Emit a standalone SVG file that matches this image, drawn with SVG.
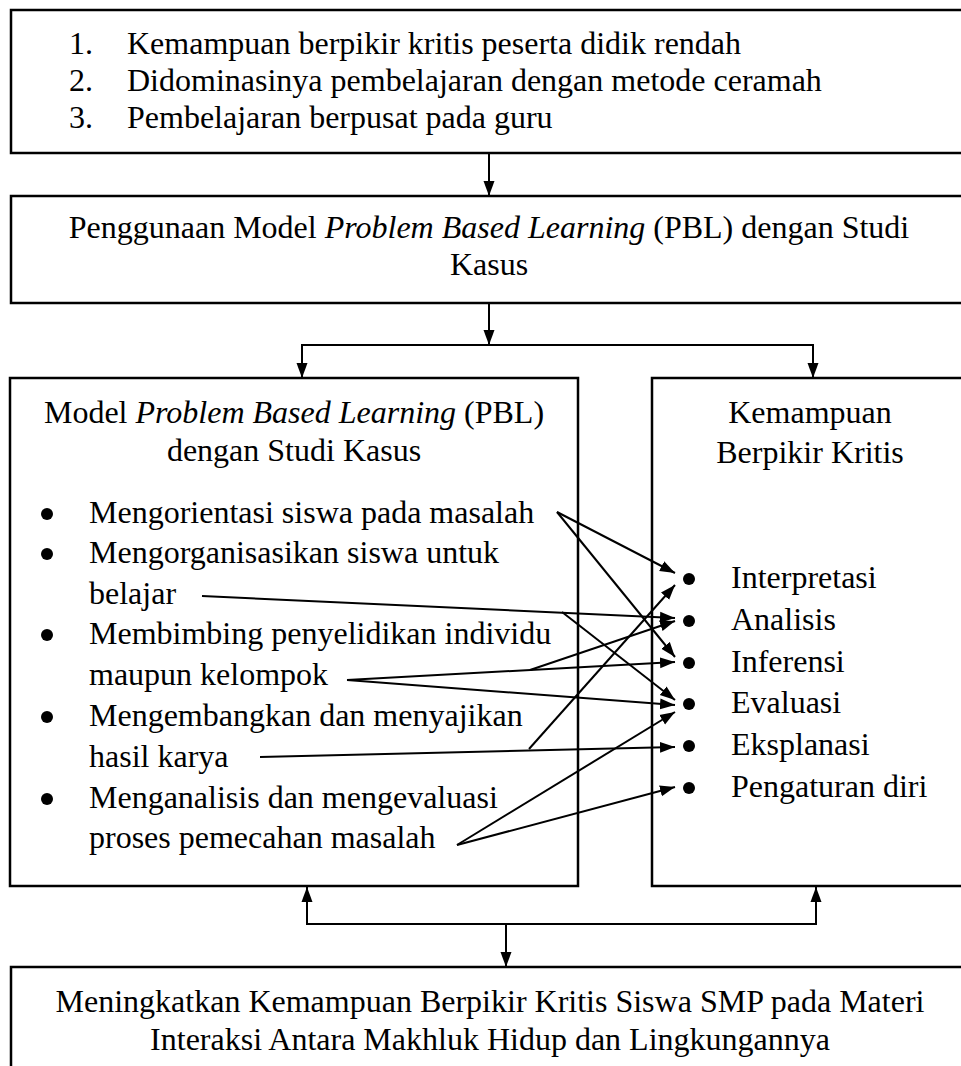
<svg xmlns="http://www.w3.org/2000/svg" width="961" height="1066" viewBox="0 0 961 1066">
<style>
.box{fill:#fff;stroke:#000;stroke-width:2.5}
.t{font-family:"Liberation Serif","Times New Roman",serif;font-size:32px;fill:#000}
.c{text-anchor:middle}
.i{font-style:italic}
.ln{fill:none;stroke:#000;stroke-width:2}
.dot{fill:#000}
</style>
<defs>
<marker id="ah" markerUnits="userSpaceOnUse" markerWidth="16" markerHeight="12" refX="15" refY="6" orient="auto">
<path d="M0,0.5 L15,6 L0,11.5 Z" fill="#000"/>
</marker>
</defs>
<rect width="961" height="1066" fill="#fff"/>
<g id="problems">
<rect class="box" x="11" y="10" width="970" height="143"/>
<text class="t" x="69" y="54">1.</text><text class="t" x="127" y="54">Kemampuan berpikir kritis peserta didik rendah</text>
<text class="t" x="69" y="91">2.</text><text class="t" x="127" y="91">Didominasinya pembelajaran dengan metode ceramah</text>
<text class="t" x="69" y="128">3.</text><text class="t" x="127" y="128">Pembelajaran berpusat pada guru</text>
</g>
<g id="penggunaan">
<rect class="box" x="11" y="196" width="970" height="107"/>
<text class="t c" x="489" y="238">Penggunaan Model <tspan class="i">Problem Based Learning</tspan> (PBL) dengan Studi</text>
<text class="t c" x="489" y="275">Kasus</text>
</g>
<g id="model-pbl">
<rect class="box" x="10" y="378" width="568" height="508"/>
<text class="t c" x="294" y="423">Model <tspan class="i">Problem Based Learning</tspan> (PBL)</text>
<text class="t c" x="294" y="461">dengan Studi Kasus</text>
<circle class="dot" cx="47" cy="514" r="6"/><text class="t" x="89" y="523">Mengorientasi siswa pada masalah</text>
<circle class="dot" cx="47" cy="554" r="6"/><text class="t" x="89" y="563">Mengorganisasikan siswa untuk</text>
<text class="t" x="89" y="604">belajar</text>
<circle class="dot" cx="47" cy="635" r="6"/><text class="t" x="89" y="644">Membimbing penyelidikan individu</text>
<text class="t" x="89" y="685">maupun kelompok</text>
<circle class="dot" cx="47" cy="717" r="6"/><text class="t" x="89" y="726">Mengembangkan dan menyajikan</text>
<text class="t" x="89" y="767">hasil karya</text>
<circle class="dot" cx="47" cy="799" r="6"/><text class="t" x="89" y="808">Menganalisis dan mengevaluasi</text>
<text class="t" x="89" y="848">proses pemecahan masalah</text>
</g>
<g id="kemampuan">
<rect class="box" x="652" y="378" width="330" height="508"/>
<text class="t c" x="810" y="423">Kemampuan</text>
<text class="t c" x="810" y="463">Berpikir Kritis</text>
<circle class="dot" cx="689" cy="579" r="6"/><text class="t" x="731" y="588">Interpretasi</text>
<circle class="dot" cx="689" cy="621" r="6"/><text class="t" x="731" y="630">Analisis</text>
<circle class="dot" cx="689" cy="663" r="6"/><text class="t" x="731" y="672">Inferensi</text>
<circle class="dot" cx="689" cy="704" r="6"/><text class="t" x="731" y="713">Evaluasi</text>
<circle class="dot" cx="689" cy="746" r="6"/><text class="t" x="731" y="755">Eksplanasi</text>
<circle class="dot" cx="689" cy="788" r="6"/><text class="t" x="731" y="797">Pengaturan diri</text>
</g>
<g id="hasil">
<rect class="box" x="11" y="967" width="970" height="120"/>
<text class="t c" x="490" y="1012">Meningkatkan Kemampuan Berpikir Kritis Siswa SMP pada Materi</text>
<text class="t c" x="490" y="1050">Interaksi Antara Makhluk Hidup dan Lingkungannya</text>
</g>
<g id="connectors">
<line class="ln" x1="489" y1="153" x2="489" y2="196" marker-end="url(#ah)"/>
<line class="ln" x1="489" y1="303" x2="489" y2="345" marker-end="url(#ah)"/>
<polyline class="ln" points="302,360 302,345 813,345 813,360"/>
<line class="ln" x1="302" y1="346" x2="302" y2="378" marker-end="url(#ah)"/>
<line class="ln" x1="813" y1="346" x2="813" y2="378" marker-end="url(#ah)"/>
<polyline class="ln" points="307,905 307,924 816,924 816,905"/>
<line class="ln" x1="307" y1="923" x2="307" y2="887" marker-end="url(#ah)"/>
<line class="ln" x1="816" y1="923" x2="816" y2="887" marker-end="url(#ah)"/>
<line class="ln" x1="506" y1="924" x2="506" y2="967" marker-end="url(#ah)"/>
<line class="ln" x1="557" y1="512" x2="675" y2="573" marker-end="url(#ah)"/>
<line class="ln" x1="557" y1="512" x2="675" y2="657" marker-end="url(#ah)"/>
<line class="ln" x1="202" y1="596" x2="675" y2="618" marker-end="url(#ah)"/>
<line class="ln" x1="562" y1="612" x2="675" y2="700" marker-end="url(#ah)"/>
<line class="ln" x1="347" y1="680" x2="675" y2="662" marker-end="url(#ah)"/>
<line class="ln" x1="347" y1="680" x2="675" y2="705" marker-end="url(#ah)"/>
<line class="ln" x1="530" y1="670" x2="675" y2="621" marker-end="url(#ah)"/>
<line class="ln" x1="260" y1="757" x2="675" y2="747" marker-end="url(#ah)"/>
<line class="ln" x1="529" y1="749" x2="675" y2="585" marker-end="url(#ah)"/>
<line class="ln" x1="457" y1="845" x2="675" y2="712" marker-end="url(#ah)"/>
<line class="ln" x1="457" y1="845" x2="675" y2="787" marker-end="url(#ah)"/>
</g>
</svg>
